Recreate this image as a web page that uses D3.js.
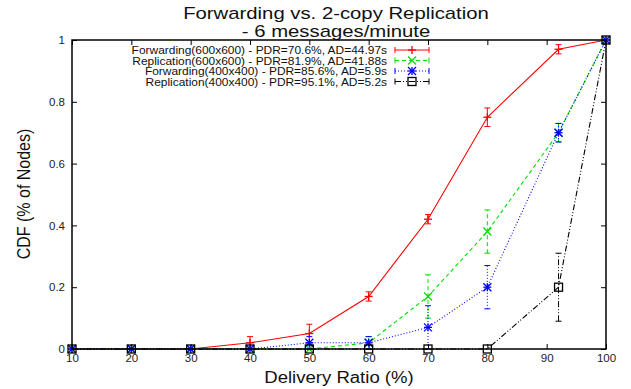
<!DOCTYPE html>
<html>
<head>
<meta charset="utf-8">
<script src="https://cdn.jsdelivr.net/npm/d3@7"></script>
<style>
  body { margin: 0; background: #fff; }
  text { font-family: "Liberation Sans", Arial, sans-serif; }
</style>
</head>
<body>
<svg id="chart" width="631" height="389"></svg>
<script>
// data
const xVals = [10, 20, 30, 40, 50, 60, 70, 80, 92, 100];
const fwd600 = [0, 0, 0, 0.02, 0.05, 0.17, 0.42, 0.75, 0.97, 1];
const fwd600Err = [0, 0, 0, 0.02, 0.03, 0.015, 0.015, 0.03, 0.015, 0];
const rep600 = [0, 0, 0, 0, 0, 0.02, 0.17, 0.38, 0.70, 1];
const rep600Err = [0, 0, 0, 0, 0, 0.02, 0.07, 0.07, 0.03, 0];
const fwd400 = [0, 0, 0, 0, 0.02, 0.02, 0.07, 0.20, 0.70, 1];
const fwd400Err = [0, 0, 0, 0, 0.02, 0.02, 0.07, 0.07, 0.03, 0];
const rep400 = [0, 0, 0, 0, 0, 0, 0, 0, 0.20, 1];
const rep400Err = [0, 0, 0, 0, 0, 0, 0, 0, 0.11, 0];
const seriesNames = [
  "Forwarding(600x600) - PDR=70.6%, AD=44.97s",
  "Replication(600x600) - PDR=81.9%, AD=41.88s",
  "Forwarding(400x400) - PDR=85.6%, AD=5.9s",
  "Replication(400x400) - PDR=95.1%, AD=5.2s"
];
const xTicks = [10, 20, 30, 40, 50, 60, 70, 80, 90, 100];
const yTicks = [0, 0.2, 0.4, 0.6, 0.8, 1];

const svg = d3.select("#chart");
const mLeft = 72, mRight = 606, mTop = 40, mBottom = 349;
const stretch = 1.16; // the original picture is a bit wider than tall

const x = d3.scaleLinear().domain([10, 100]).range([mLeft, mRight]);
const y = d3.scaleLinear().domain([0, 1]).range([mBottom, mTop]);

const series = [
  { name: seriesNames[0], vals: fwd600, err: fwd600Err, color: "#ff0000", dash: null, marker: "plus" },
  { name: seriesNames[1], vals: rep600, err: rep600Err, color: "#00e000", dash: "4,3", marker: "cross" },
  { name: seriesNames[2], vals: fwd400, err: fwd400Err, color: "#0000ff", dash: "1,2", marker: "star" },
  { name: seriesNames[3], vals: rep400, err: rep400Err, color: "#000000", dash: "6,2,1,2,1,2", marker: "square" }
];

// axes with inward ticks
const tickStyle = g => {
  g.select(".domain").remove();
  g.selectAll("line").attr("stroke", "#000");
  g.selectAll("text").attr("font-size", 11.5).attr("fill", "#222");
};
svg.append("g").attr("transform", `translate(0,${mBottom})`)
  .call(d3.axisBottom(x).tickValues(xTicks).tickSizeInner(-5).tickSizeOuter(0).tickPadding(5).tickFormat(d3.format("d")))
  .call(tickStyle);
svg.append("g").attr("transform", `translate(0,${mTop})`)
  .call(d3.axisTop(x).tickValues(xTicks).tickSizeInner(-5).tickSizeOuter(0).tickFormat(""))
  .call(tickStyle);
svg.append("g").attr("transform", `translate(${mLeft},0)`)
  .call(d3.axisLeft(y).tickValues(yTicks).tickSizeInner(-5).tickSizeOuter(0).tickPadding(7).tickFormat(d => d))
  .call(tickStyle);
svg.append("g").attr("transform", `translate(${mRight},0)`)
  .call(d3.axisRight(y).tickValues(yTicks).tickSizeInner(-5).tickSizeOuter(0).tickFormat(""))
  .call(tickStyle);

function drawMarker(g, kind, cx, cy, color) {
  const s = 4;
  if (kind === "plus" || kind === "star") {
    g.append("line").attr("x1", cx - s).attr("x2", cx + s).attr("y1", cy).attr("y2", cy).attr("stroke", color).attr("stroke-width", 1.3);
    g.append("line").attr("x1", cx).attr("x2", cx).attr("y1", cy - s).attr("y2", cy + s).attr("stroke", color).attr("stroke-width", 1.3);
  }
  if (kind === "cross" || kind === "star") {
    g.append("line").attr("x1", cx - s).attr("x2", cx + s).attr("y1", cy - s).attr("y2", cy + s).attr("stroke", color).attr("stroke-width", 1.3);
    g.append("line").attr("x1", cx - s).attr("x2", cx + s).attr("y1", cy + s).attr("y2", cy - s).attr("stroke", color).attr("stroke-width", 1.3);
  }
  if (kind === "square") {
    g.append("rect").attr("x", cx - 4).attr("y", cy - 4).attr("width", 8).attr("height", 8)
      .attr("fill", "none").attr("stroke", color).attr("stroke-width", 1.3);
  }
}

const line = d3.line().x(d => x(d[0])).y(d => y(d[1]));

series.forEach(s => {
  const g = svg.append("g");
  const pts = xVals.map((xv, i) => [xv, s.vals[i], s.err[i]]);
  g.append("path").datum(pts).attr("d", line)
    .attr("fill", "none").attr("stroke", s.color).attr("stroke-width", 1.1)
    .attr("stroke-dasharray", s.dash);
  // error bars
  pts.filter(p => p[2] > 0).forEach(p => {
    const y1 = y(Math.max(0, p[1] - p[2])), y2 = y(Math.min(1, p[1] + p[2]));
    g.append("line").attr("x1", x(p[0])).attr("x2", x(p[0])).attr("y1", y1).attr("y2", y2)
      .attr("stroke", s.color).attr("stroke-dasharray", s.dash);
    [y1, y2].forEach(yy => g.append("line").attr("x1", x(p[0]) - 3).attr("x2", x(p[0]) + 3)
      .attr("y1", yy).attr("y2", yy).attr("stroke", s.color));
  });
  pts.forEach(p => drawMarker(g, s.marker, x(p[0]), y(p[1]), s.color));
});

// frame
svg.append("rect").attr("x", mLeft).attr("y", mTop).attr("width", mRight - mLeft).attr("height", mBottom - mTop)
  .attr("fill", "none").attr("stroke", "#000").attr("stroke-width", 1.5);

// stretched text helper
function label(tx, ty, txt, size, anchor, sx) {
  return svg.append("text").attr("transform", `translate(${tx},${ty}) scale(${sx || stretch},1)`)
    .attr("text-anchor", anchor).attr("font-size", size).attr("fill", "#111").text(txt);
}

// legend
const legX = 387, legY = 50, legStep = 10.5;
series.forEach((s, i) => {
  const ly = legY + i * legStep;
  label(legX, ly + 4, s.name, 10.3, "end");
  svg.append("line").attr("x1", 395).attr("x2", 429).attr("y1", ly).attr("y2", ly)
    .attr("stroke", s.color).attr("stroke-dasharray", s.dash);
  [395, 429].forEach(xx => svg.append("line").attr("x1", xx).attr("x2", xx).attr("y1", ly - 3).attr("y2", ly + 3).attr("stroke", s.color));
  drawMarker(svg.append("g"), s.marker, 412, ly, s.color);
});

// title and axis labels
label(336, 18.5, "Forwarding vs. 2-copy Replication", 16, "middle", 1.27);
label(336, 37, "- 6 messages/minute", 16, "middle", 1.27);
label(339, 383, "Delivery Ratio (%)", 16, "middle");
svg.append("text").attr("transform", `translate(30,194) scale(${stretch},1) rotate(-90)`)
  .attr("text-anchor", "middle").attr("font-size", 16).attr("fill", "#111").text("CDF (% of Nodes)");
</script>
</body>
</html>
